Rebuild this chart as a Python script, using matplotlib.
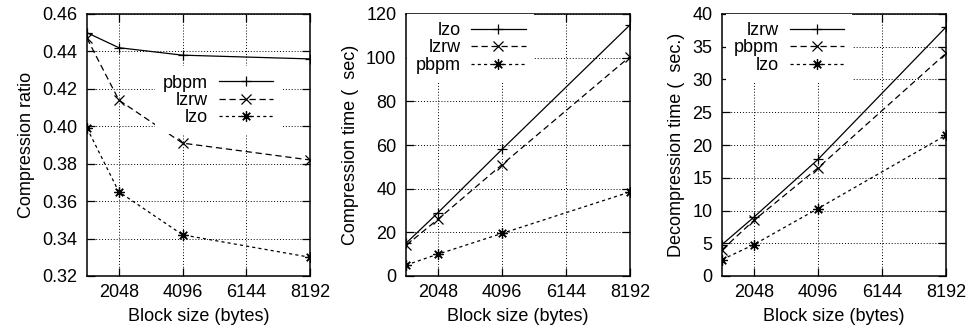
import matplotlib
matplotlib.use("Agg")
import matplotlib.pyplot as plt

plt.rcParams['font.family'] = ['Liberation Sans', 'DejaVu Sans']
plt.rcParams['font.size'] = 13

block_sizes = [1024, 2048, 4096, 8192]
xticks = [2048, 4096, 6144, 8192]

# Panel 1: compression ratio
ratio_pbpm = [0.450, 0.442, 0.438, 0.436]
ratio_lzrw = [0.447, 0.414, 0.391, 0.382]
ratio_lzo = [0.399, 0.365, 0.342, 0.330]

# Panel 2: compression time
ctime_lzo = [15.0, 29.0, 58.0, 115.0]
ctime_lzrw = [14.0, 26.0, 51.0, 100.5]
ctime_pbpm = [5.0, 10.0, 19.5, 38.5]

# Panel 3: decompression time
dtime_lzrw = [4.8, 9.0, 17.8, 38.0]
dtime_pbpm = [4.0, 8.5, 16.5, 34.0]
dtime_lzo = [2.5, 4.8, 10.3, 21.5]

W, H = 971, 330
fig = plt.figure(figsize=(W / 100, H / 100), dpi=100)

STAR = (8, 2, 0)
styles = [
    dict(ls='-', marker='+'),
    dict(ls=(0, (5, 3)), marker='x'),
    dict(ls=(0, (2.5, 2.5)), marker=STAR),
]


def make_axes(left_px, right_px):
    top_px, bot_px = 14, 276
    return fig.add_axes([left_px / W, (H - bot_px) / H,
                         (right_px - left_px) / W, (bot_px - top_px) / H])


def setup(ax, series, names, ylim, yticks, ylabel, legend_anchor):
    for vals, name, st in zip(series, names, styles):
        ax.plot(block_sizes, vals, color='black', lw=0.9, ms=7.5, mew=0.9,
                label=name, **st)
    ax.set_xlim(1024, 8192)
    ax.set_ylim(*ylim)
    ax.set_xticks(xticks)
    ax.set_yticks(yticks)
    ax.grid(True, ls=(0, (1, 2)), color='black', lw=0.7)
    ax.set_axisbelow(True)
    ax.tick_params(direction='in', length=6, width=0.9, top=True, right=True)
    ax.tick_params(axis='x', pad=6)
    ax.tick_params(axis='y', pad=7)
    for sp in ax.spines.values():
        sp.set_linewidth(1.1)
    ax.set_xlabel('Block size (bytes)', labelpad=5)
    ax.set_ylabel(ylabel, labelpad=5)
    leg = ax.legend(loc='upper right', bbox_to_anchor=legend_anchor,
                    markerfirst=False, frameon=True, fancybox=False,
                    edgecolor='none', facecolor='white', framealpha=1,
                    handlelength=3.0, handletextpad=0.6, labelspacing=0.02,
                    borderaxespad=0, borderpad=0.45, numpoints=1)
    leg.set_zorder(5)


ax1 = make_axes(87, 310)
setup(ax1, [ratio_pbpm, ratio_lzrw, ratio_lzo], ['pbpm', 'lzrw', 'lzo'],
      (0.32, 0.46), [0.32, 0.34, 0.36, 0.38, 0.40, 0.42, 0.44, 0.46],
      'Compression ratio', (0.87, 0.80))
ax1.set_yticklabels(['0.32', '0.34', '0.36', '0.38', '0.40', '0.42', '0.44', '0.46'])

ax2 = make_axes(406, 630)
setup(ax2, [ctime_lzo, ctime_lzrw, ctime_pbpm], ['lzo', 'lzrw', 'pbpm'],
      (0, 120), [0, 20, 40, 60, 80, 100, 120],
      'Compression time (  sec)', (0.57, 1.0))

ax3 = make_axes(722, 946)
setup(ax3, [dtime_lzrw, dtime_pbpm, dtime_lzo], ['lzrw', 'pbpm', 'lzo'],
      (0, 40), [0, 5, 10, 15, 20, 25, 30, 35, 40],
      'Decompression time (  sec.)', (0.58, 1.0))

fig.savefig('out.png', dpi=100)
